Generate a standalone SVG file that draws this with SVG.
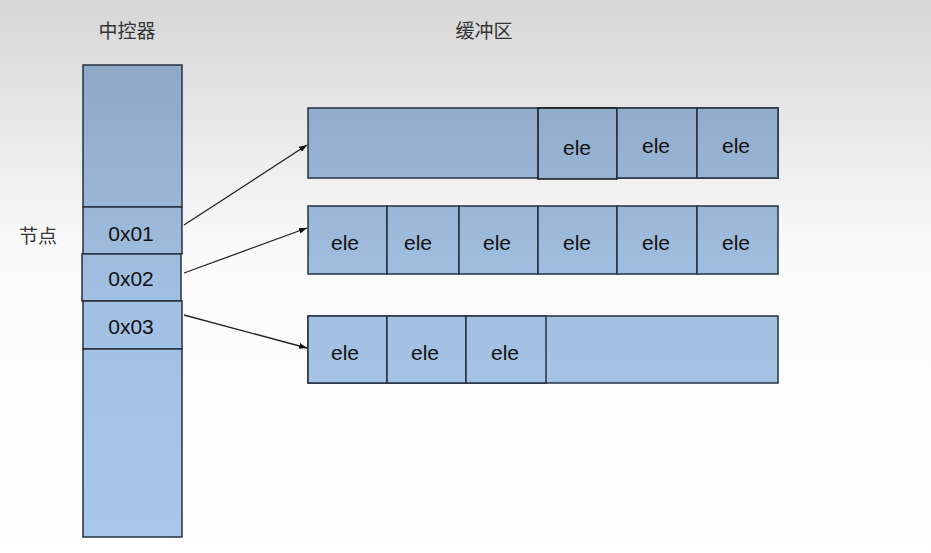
<svg xmlns="http://www.w3.org/2000/svg" width="931" height="553" viewBox="0 0 931 553">
<defs>
<linearGradient id="bg" x1="0" y1="0" x2="0" y2="553" gradientUnits="userSpaceOnUse">
<stop offset="0" stop-color="#d6d6d6"/><stop offset="0.45" stop-color="#fafafa"/><stop offset="1" stop-color="#ffffff"/>
</linearGradient>
<linearGradient id="fill" x1="0" y1="60" x2="0" y2="540" gradientUnits="userSpaceOnUse">
<stop offset="0" stop-color="#8ea8c6"/><stop offset="0.5" stop-color="#a2c0e2"/><stop offset="1" stop-color="#a8c7ea"/>
</linearGradient>
<marker id="ah" markerWidth="8" markerHeight="6" refX="8" refY="3" orient="auto" markerUnits="userSpaceOnUse">
<path d="M0,0 L8,3 L0,6 z" fill="#111"/>
</marker>
<style>
.c{fill:url(#fill);stroke:#263040;stroke-width:1.5}
.t{font-family:"Liberation Sans",Arial,sans-serif;font-size:21px;fill:#111;text-anchor:middle}
.h{font-family:"Noto Sans CJK SC",sans-serif;font-size:19px;fill:#333;text-anchor:middle}
.a{stroke:#222;stroke-width:1.3;fill:none;marker-end:url(#ah)}
</style>
</defs>
<rect width="931" height="553" fill="url(#bg)"/>
<text class="h" x="127" y="38">中控器</text>
<text class="h" x="484" y="38">缓冲区</text>
<text class="h" x="38" y="243">节点</text>
<g id="controller">
<rect class="c" x="83" y="65" width="99" height="142"/>
<rect class="c" x="83" y="207" width="99" height="47"/><text class="t" x="131" y="241">0x01</text>
<rect class="c" x="82" y="254" width="99" height="47"/><text class="t" x="131" y="286">0x02</text>
<rect class="c" x="83" y="301" width="99" height="48"/><text class="t" x="131" y="334">0x03</text>
<rect class="c" x="83" y="349" width="99" height="188"/>
</g>
<g id="buffer1">
<rect class="c" x="308" y="108" width="470" height="70"/>
<rect class="c" x="538" y="108" width="79" height="71" style="stroke:#111"/><text class="t" x="577" y="155">ele</text>
<rect class="c" x="617" y="108" width="80" height="70"/><text class="t" x="656" y="153">ele</text>
<rect class="c" x="697" y="108" width="81" height="70"/><text class="t" x="736" y="153">ele</text>
</g>
<g id="buffer2">
<rect class="c" x="308" y="206" width="79" height="68"/><text class="t" x="345" y="250">ele</text>
<rect class="c" x="387" y="206" width="72" height="68"/><text class="t" x="418" y="250">ele</text>
<rect class="c" x="459" y="206" width="79" height="68"/><text class="t" x="497" y="250">ele</text>
<rect class="c" x="538" y="206" width="79" height="68"/><text class="t" x="577" y="250">ele</text>
<rect class="c" x="617" y="206" width="80" height="68"/><text class="t" x="656" y="250">ele</text>
<rect class="c" x="697" y="206" width="81" height="68"/><text class="t" x="736" y="250">ele</text>
</g>
<g id="buffer3">
<rect class="c" x="308" y="316" width="470" height="67"/>
<rect class="c" x="308" y="316" width="79" height="67"/><text class="t" x="345" y="360">ele</text>
<rect class="c" x="387" y="316" width="79" height="67"/><text class="t" x="425" y="360">ele</text>
<rect class="c" x="466" y="316" width="80" height="67"/><text class="t" x="505" y="360">ele</text>
</g>
<g id="connectors">
<line class="a" x1="184" y1="225" x2="307" y2="145"/>
<line class="a" x1="184" y1="273" x2="307" y2="228"/>
<line class="a" x1="184" y1="315" x2="307" y2="348"/>
</g>
</svg>
